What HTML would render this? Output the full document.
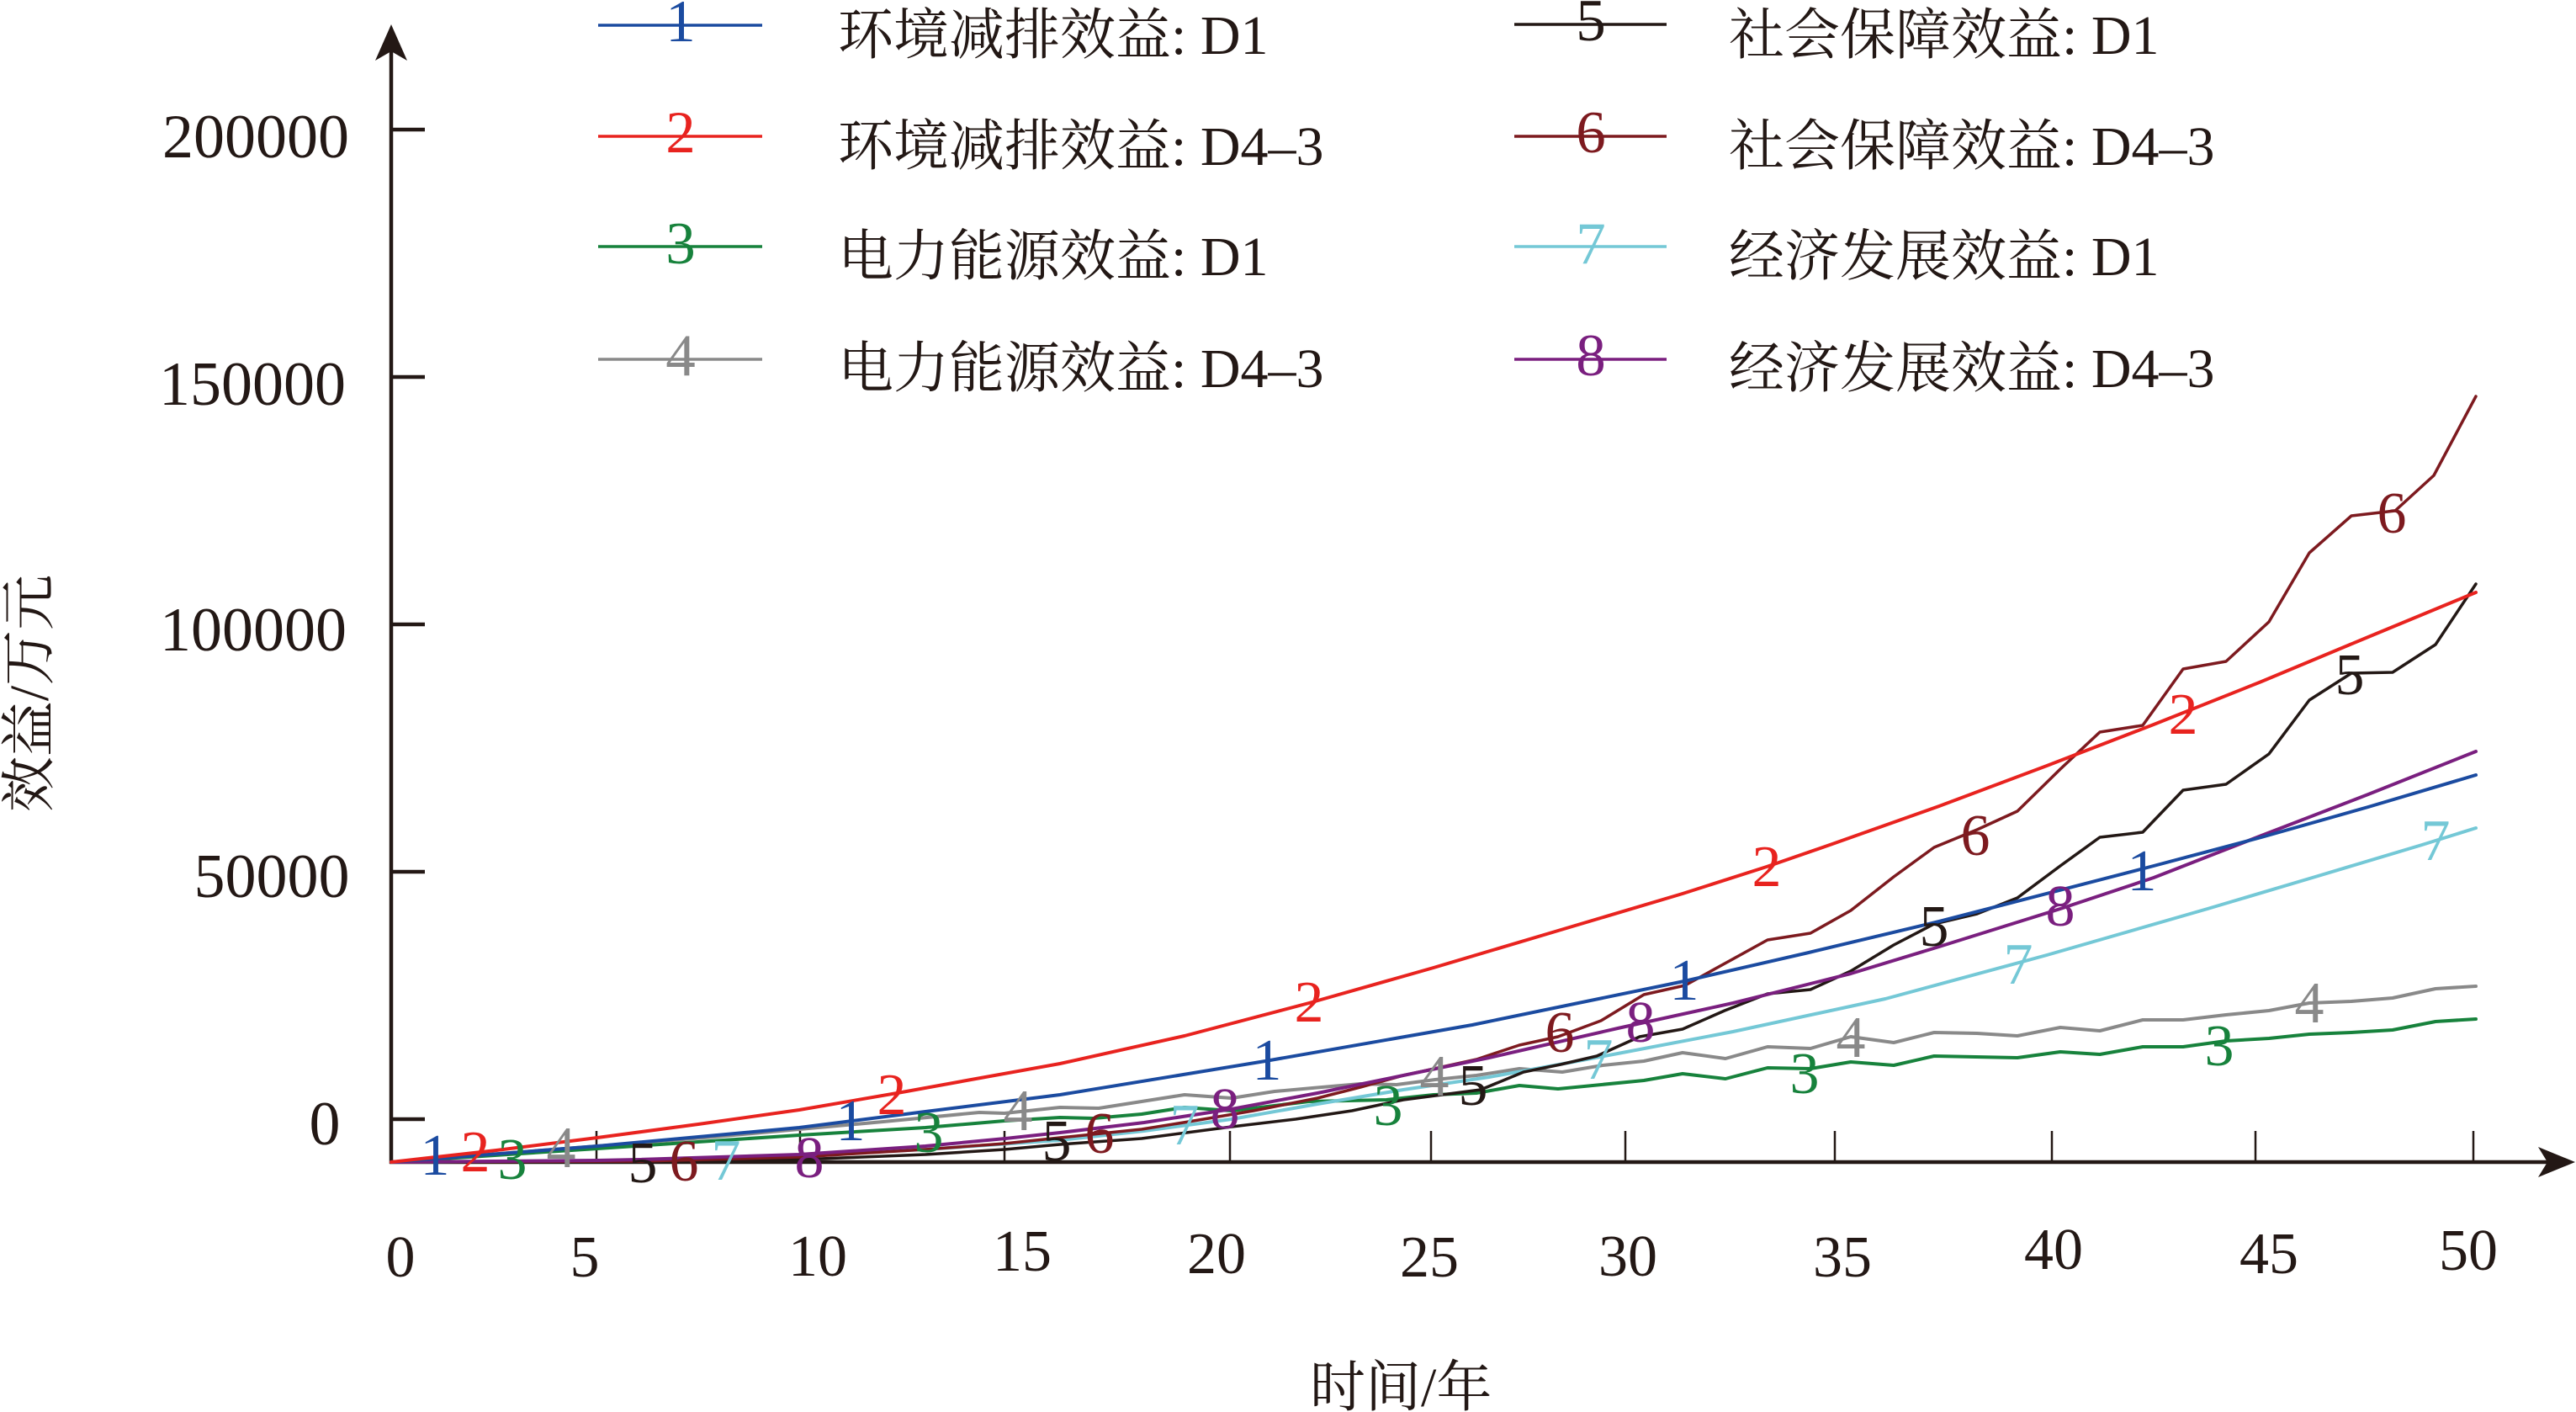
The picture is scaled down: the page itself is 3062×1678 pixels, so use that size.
<!DOCTYPE html>
<html>
<head>
<meta charset="utf-8">
<style>
html,body{margin:0;padding:0;background:#ffffff;}
svg{display:block;}
text{font-family:"Liberation Serif","Noto Serif CJK SC",serif;}
</style>
</head>
<body>
<svg width="3062" height="1678" viewBox="0 0 3062 1678" xmlns="http://www.w3.org/2000/svg">
<rect x="0" y="0" width="3062" height="1678" fill="#ffffff"/>

<!-- Axes -->
<g stroke="#231815" fill="none" stroke-linecap="butt">
  <line x1="465" y1="60" x2="465" y2="1383" stroke-width="4.5"/>
  <line x1="463" y1="1381" x2="3030" y2="1381" stroke-width="4.5"/>
  <!-- y ticks -->
  <line x1="465" y1="154" x2="505" y2="154" stroke-width="4.5"/>
  <line x1="465" y1="448" x2="505" y2="448" stroke-width="4.5"/>
  <line x1="465" y1="742" x2="505" y2="742" stroke-width="4.5"/>
  <line x1="465" y1="1036" x2="505" y2="1036" stroke-width="4.5"/>
  <line x1="465" y1="1330" x2="505" y2="1330" stroke-width="4.5"/>
  <!-- x ticks -->
  <g stroke-width="2.5">
    <line x1="709" y1="1344" x2="709" y2="1381"/>
    <line x1="951" y1="1344" x2="951" y2="1381"/>
    <line x1="1194" y1="1344" x2="1194" y2="1381"/>
    <line x1="1462" y1="1344" x2="1462" y2="1381"/>
    <line x1="1701" y1="1344" x2="1701" y2="1381"/>
    <line x1="1932" y1="1344" x2="1932" y2="1381"/>
    <line x1="2181" y1="1344" x2="2181" y2="1381"/>
    <line x1="2439" y1="1344" x2="2439" y2="1381"/>
    <line x1="2681" y1="1344" x2="2681" y2="1381"/>
    <line x1="2940" y1="1344" x2="2940" y2="1381"/>
  </g>
</g>
<polygon points="465,29 484,72 465,61 446,72" fill="#231815"/>
<polygon points="3061,1381 3017,1363 3028,1381 3017,1399" fill="#231815"/>

<!-- Y tick labels -->
<g font-size="74" fill="#231815" text-anchor="middle">
  <text x="304" y="187">200000</text>
  <text x="300" y="481">150000</text>
  <text x="301" y="773">100000</text>
  <text x="323" y="1066">50000</text>
  <text x="386" y="1360">0</text>
</g>

<!-- X tick labels -->
<g font-size="70" fill="#231815" text-anchor="middle">
  <text x="476" y="1517">0</text>
  <text x="695" y="1517">5</text>
  <text x="972" y="1516">10</text>
  <text x="1215" y="1510">15</text>
  <text x="1446" y="1513">20</text>
  <text x="1699" y="1517">25</text>
  <text x="1935" y="1516">30</text>
  <text x="2190" y="1517">35</text>
  <text x="2441" y="1508">40</text>
  <text x="2697" y="1513">45</text>
  <text x="2934" y="1509">50</text>
</g>

<!-- Axis titles -->
<text x="1557" y="1671" font-size="66" fill="#231815">时间/年</text>
<text transform="translate(57,824) rotate(-90)" font-size="66" fill="#231815" text-anchor="middle">效益/万元</text>

<!-- Series -->
<g fill="none" stroke-linejoin="round" stroke-linecap="round">
  <!-- 4 gray -->
  <polyline stroke="#898989" stroke-width="4" points="465,1381 710,1362 850,1351 950,1342 1050,1333 1164,1322 1194,1323 1260,1316 1306,1317 1357,1309 1408,1301 1464,1305 1515,1297 1560,1293 1617,1288 1660,1289 1706,1283 1755,1278 1806,1270 1857,1274 1905,1266 1954,1261 2000,1251 2051,1258 2101,1244 2152,1246 2200,1232 2251,1239 2299,1227 2350,1228 2398,1231 2449,1221 2496,1225 2547,1212 2595,1212 2646,1206 2697,1201 2745,1192 2795,1190 2844,1186 2895,1175 2943,1172"/>
  <!-- 3 green -->
  <polyline stroke="#17823c" stroke-width="4" points="465,1381 710,1365 950,1349 1100,1340 1194,1332 1260,1328 1300,1329 1357,1324 1408,1316 1464,1320 1556,1309 1648,1307 1704,1301 1755,1299 1806,1290 1852,1294 1954,1284 2000,1276 2051,1282 2101,1269 2152,1270 2200,1262 2251,1266 2299,1255 2398,1257 2449,1250 2496,1253 2547,1244 2595,1244 2646,1237 2697,1234 2745,1229 2795,1227 2844,1224 2895,1214 2943,1211"/>
  <!-- 7 cyan -->
  <polyline stroke="#74c8d6" stroke-width="4" points="465,1381 756,1379 950,1373 1100,1366 1260,1355 1360,1344 1464,1330 1566,1312 1668,1295 1770,1280 1870,1262 1923,1252 2060,1226 2241,1187 2433,1135 2624,1080 2752,1042 2879,1004 2943,984"/>
  <!-- 5 black -->
  <polyline stroke="#231815" stroke-width="3.5" points="465,1381 710,1381 950,1378 1100,1372 1194,1366 1260,1360 1357,1353 1464,1339 1540,1330 1607,1320 1668,1307 1760,1295 1811,1274 1855,1265 1898,1255 1949,1232 2000,1223 2050,1201 2101,1181 2152,1176 2200,1154 2251,1123 2299,1098 2350,1086 2398,1067 2449,1029 2496,995 2547,989 2595,939 2646,932 2697,896 2745,832 2795,800 2844,799 2895,766 2943,694"/>
  <!-- 6 dark red -->
  <polyline stroke="#7d1a1f" stroke-width="3.5" points="465,1381 760,1380 950,1375 1100,1366 1194,1359 1260,1352 1357,1342 1413,1333 1490,1320 1566,1305 1617,1292 1668,1278 1755,1259 1806,1242 1852,1232 1903,1213 1954,1182 2003,1171 2052,1144 2101,1117 2152,1109 2200,1082 2251,1042 2299,1007 2350,986 2398,964 2449,914 2496,870 2547,862 2595,795 2646,786 2697,739 2745,657 2795,613 2847,607 2893,565 2943,471"/>
  <!-- 8 purple -->
  <polyline stroke="#7a1f7f" stroke-width="4" points="465,1381 710,1379 760,1378 950,1372 1100,1362 1195,1353 1260,1346 1360,1334 1464,1318 1566,1299 1668,1278 1770,1257 1923,1222 2060,1192 2200,1157 2305,1125 2449,1080 2560,1043 2688,993 2815,944 2943,893"/>
  <!-- 1 blue -->
  <polyline stroke="#1b4ba0" stroke-width="4" points="465,1381 710,1362 950,1340 1100,1321 1260,1301 1504,1261 1750,1218 2002,1166 2150,1132 2305,1095 2560,1029 2688,995 2815,959 2943,921"/>
  <!-- 2 red -->
  <polyline stroke="#e8231f" stroke-width="4" points="465,1381 590,1367 710,1352 830,1336 950,1319 1072,1298 1160,1282 1260,1264 1408,1231 1556,1192 1704,1150 1852,1106 2000,1062 2100,1030 2178,1003 2305,958 2433,910 2560,861 2688,810 2815,757 2943,704"/>
</g>

<!-- Series labels -->
<g font-size="70" text-anchor="middle">
  <g fill="#1b4ba0">
    <text x="517" y="1396">1</text>
    <text x="1011" y="1355">1</text>
    <text x="1506" y="1283">1</text>
    <text x="2002" y="1188">1</text>
    <text x="2546" y="1058">1</text>
  </g>
  <g fill="#e8231f">
    <text x="565" y="1392">2</text>
    <text x="1060" y="1324">2</text>
    <text x="1556" y="1214">2</text>
    <text x="2100" y="1053">2</text>
    <text x="2595" y="872">2</text>
  </g>
  <g fill="#17823c">
    <text x="609" y="1401">3</text>
    <text x="1104" y="1369">3</text>
    <text x="1650" y="1337">3</text>
    <text x="2145" y="1299">3</text>
    <text x="2638" y="1266">3</text>
  </g>
  <g fill="#898989">
    <text x="667" y="1387">4</text>
    <text x="1210" y="1343">4</text>
    <text x="1705" y="1302">4</text>
    <text x="2200" y="1256">4</text>
    <text x="2745" y="1215">4</text>
  </g>
  <g fill="#231815">
    <text x="764" y="1405">5</text>
    <text x="1256" y="1379">5</text>
    <text x="1751" y="1313">5</text>
    <text x="2299" y="1124">5</text>
    <text x="2793" y="825">5</text>
  </g>
  <g fill="#7d1a1f">
    <text x="813" y="1403">6</text>
    <text x="1307" y="1370">6</text>
    <text x="1854" y="1250">6</text>
    <text x="2348" y="1016">6</text>
    <text x="2843" y="633">6</text>
  </g>
  <g fill="#74c8d6">
    <text x="863" y="1402">7</text>
    <text x="1408" y="1360">7</text>
    <text x="1900" y="1282">7</text>
    <text x="2399" y="1169">7</text>
    <text x="2895" y="1022">7</text>
  </g>
  <g fill="#7a1f7f">
    <text x="962" y="1399">8</text>
    <text x="1456" y="1341">8</text>
    <text x="1950" y="1238">8</text>
    <text x="2449" y="1100">8</text>
  </g>
</g>

<!-- Legend lines -->
<g stroke-width="3.5" fill="none">
  <line x1="711" y1="30" x2="906" y2="30" stroke="#1b4ba0"/>
  <line x1="711" y1="162" x2="906" y2="162" stroke="#e8231f"/>
  <line x1="711" y1="293" x2="906" y2="293" stroke="#17823c"/>
  <line x1="711" y1="427" x2="906" y2="427" stroke="#898989"/>
  <line x1="1800" y1="29" x2="1981" y2="29" stroke="#231815"/>
  <line x1="1800" y1="162" x2="1981" y2="162" stroke="#7d1a1f"/>
  <line x1="1800" y1="293" x2="1981" y2="293" stroke="#74c8d6"/>
  <line x1="1800" y1="427" x2="1981" y2="427" stroke="#7a1f7f"/>
</g>
<g font-size="71" text-anchor="middle">
  <text x="809" y="49" fill="#1b4ba0">1</text>
  <text x="809" y="181" fill="#e8231f">2</text>
  <text x="809" y="313" fill="#17823c">3</text>
  <text x="809" y="446" fill="#898989">4</text>
  <text x="1891" y="48" fill="#231815">5</text>
  <text x="1891" y="181" fill="#7d1a1f">6</text>
  <text x="1891" y="313" fill="#74c8d6">7</text>
  <text x="1891" y="446" fill="#7a1f7f">8</text>
</g>

<!-- Legend text -->
<g font-size="66" fill="#231815">
  <text x="996" y="64">环境减排效益: D1</text>
  <text x="996" y="196">环境减排效益: D4–3</text>
  <text x="996" y="327">电力能源效益: D1</text>
  <text x="996" y="460">电力能源效益: D4–3</text>
  <text x="2055" y="64">社会保障效益: D1</text>
  <text x="2055" y="196">社会保障效益: D4–3</text>
  <text x="2055" y="327">经济发展效益: D1</text>
  <text x="2055" y="460">经济发展效益: D4–3</text>
</g>
</svg>
</body>
</html>
